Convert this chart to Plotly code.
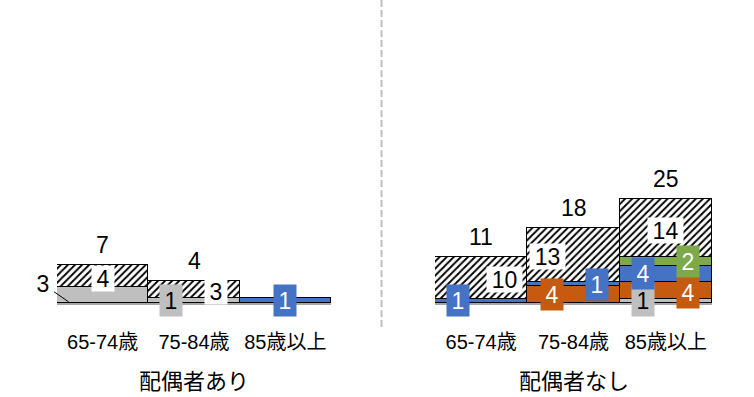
import plotly.graph_objects as go

# ---- data -------------------------------------------------------------
categories = ["65-74歳", "75-84歳", "85歳以上"]
groups = ["配偶者あり", "配偶者なし"]

# 配偶者あり (stack order bottom -> top)
gray_with = [3, 1, None]
orange_with = [None, None, None]
blue_with = [None, None, 1]
green_with = [None, None, None]
hatch_with = [4, 3, None]

# 配偶者なし
gray_without = [None, None, 1]
orange_without = [None, 4, 4]
blue_without = [1, 1, 4]
green_without = [None, None, 2]
hatch_without = [10, 13, 14]

# which totals get a label above the stack
show_total_with = [True, True, False]
show_total_without = [True, True, True]

# ---- styles -----------------------------------------------------------
FONT = "Liberation Sans, Arial, Noto Sans CJK JP, sans-serif"
GRAY, ORANGE, BLUE, GREEN = "#BFBFBF", "#C55A11", "#4472C4", "#7EA94B"
EDGE = "#000000"

series_style = [
    ("gray", GRAY, "#000000"),
    ("orange", ORANGE, "#FFFFFF"),
    ("blue", BLUE, "#FFFFFF"),
    ("green", GREEN, "#FFFFFF"),
    ("hatch", "#FFFFFF", "#000000"),
]

# label placement (pixel offsets from segment middle: dx right, dy up)
label_offsets = {
    0: {  # 配偶者あり
        (0, "gray"): (-60, 11),
        (0, "hatch"): (0, -3),
        (1, "gray"): (-23, 0),
        (1, "hatch"): (22, -2),
        (2, "blue"): (0, 0),
    },
    1: {  # 配偶者なし
        (0, "blue"): (-23, 0),
        (0, "hatch"): (23, -1),
        (1, "orange"): (-22, 0),
        (1, "blue"): (23, 0),
        (1, "hatch"): (-26, -1),
        (2, "gray"): (-23, 0),
        (2, "orange"): (22, -2),
        (2, "blue"): (-23, 0),
        (2, "green"): (22, 0),
        (2, "hatch"): (0, -2),
    },
}
leader_lines = {(0, 0, "gray")}  # panel, category, series

panels = [
    dict(series=[gray_with, orange_with, blue_with, green_with, hatch_with],
         totals_shown=show_total_with, xa="x", ya="y"),
    dict(series=[gray_without, orange_without, blue_without, green_without, hatch_without],
         totals_shown=show_total_without, xa="x2", ya="y2"),
]

fig = go.Figure()
annotations = []

for p, panel in enumerate(panels):
    for (name, color, _), values in zip(series_style, panel["series"]):
        marker = dict(color=color, line=dict(color=EDGE, width=1.5))
        if name == "hatch":
            marker["pattern"] = dict(shape="/", fgcolor="#000000", bgcolor="#FFFFFF",
                                     fgopacity=1, size=5, solidity=0.38)
        fig.add_trace(go.Bar(x=categories, y=values, marker=marker,
                             xaxis=panel["xa"], yaxis=panel["ya"],
                             showlegend=False, hoverinfo="skip"))

    # segment labels
    for i, cat in enumerate(categories):
        base = 0
        for (name, color, tcolor), values in zip(series_style, panel["series"]):
            v = values[i]
            if not v:
                continue
            mid = base + v / 2
            base += v
            dx, dy = label_offsets[p].get((i, name), (0, 0))
            txt = str(v)
            box = dict(
                x=cat, y=mid, xref=panel["xa"], yref=panel["ya"],
                text=txt, font=dict(family=FONT, size=23, color=tcolor),
                bgcolor=color, borderpad=0,
                width=13 * len(txt) + 9,
                height=25 if name == "hatch" else 31,
                xshift=dx, yshift=dy, showarrow=False,
            )
            if (p, i, name) in leader_lines:
                box.update(bgcolor="rgba(0,0,0,0)", y=0.2, xshift=-34,
                           yshift=0, showarrow=True, arrowhead=0,
                           arrowwidth=1, arrowcolor="#000000",
                           ax=-26, ay=-18, standoff=0)
            annotations.append(box)

        total = base
        if panel["totals_shown"][i]:
            annotations.append(dict(
                x=cat, y=total, xref=panel["xa"], yref=panel["ya"],
                text=str(total), font=dict(family=FONT, size=23, color="#000000"),
                yanchor="middle", yshift=20, showarrow=False,
            ))

    # group caption under the categories
    annotations.append(dict(
        x=0.5, y=381, xref=f"{panel['xa']} domain", yref="paper",
        text=groups[p], font=dict(family=FONT, size=22, color="#000000"),
        showarrow=False, yanchor="middle",
    ))

# convert caption pixel rows into paper fraction
H, W = 397, 754
for a in annotations:
    if a.get("yref") == "paper":
        a["y"] = 1 - a["y"] / H

base_px = 303
axis_common = dict(
    range=[-0.5, len(categories) - 0.5], autorange=False,
    showgrid=False, zeroline=False, showline=True, linecolor="#A6A6A6",
    linewidth=2, ticks="outside", ticklen=20, tickcolor="rgba(0,0,0,0)",
    tickfont=dict(family=FONT, size=20, color="#000000"), fixedrange=True,
)
yaxis_common = dict(visible=False, showgrid=False, zeroline=False,
                    domain=[1 - base_px / H, 1], fixedrange=True, autorange=False)

fig.update_layout(
    width=W, height=H, margin=dict(l=0, r=0, t=0, b=0),
    paper_bgcolor="#FFFFFF", plot_bgcolor="#FFFFFF",
    barmode="stack", bargap=0,
    xaxis=dict(domain=[57 / W, 331 / W], anchor="y", **axis_common),
    xaxis2=dict(domain=[435 / W, 712 / W], anchor="y2", **axis_common),
    yaxis=dict(range=[0, base_px / 5.43], anchor="x", **yaxis_common),
    yaxis2=dict(range=[0, base_px / 4.16], anchor="x2", **yaxis_common),
    annotations=annotations,
    shapes=[dict(type="line", xref="paper", yref="paper",
                 x0=381.5 / W, x1=381.5 / W, y0=1, y1=1 - 330 / H,
                 line=dict(color="#BFBFBF", width=2, dash="7px,3px"))],
)

fig.write_html("out.html")
